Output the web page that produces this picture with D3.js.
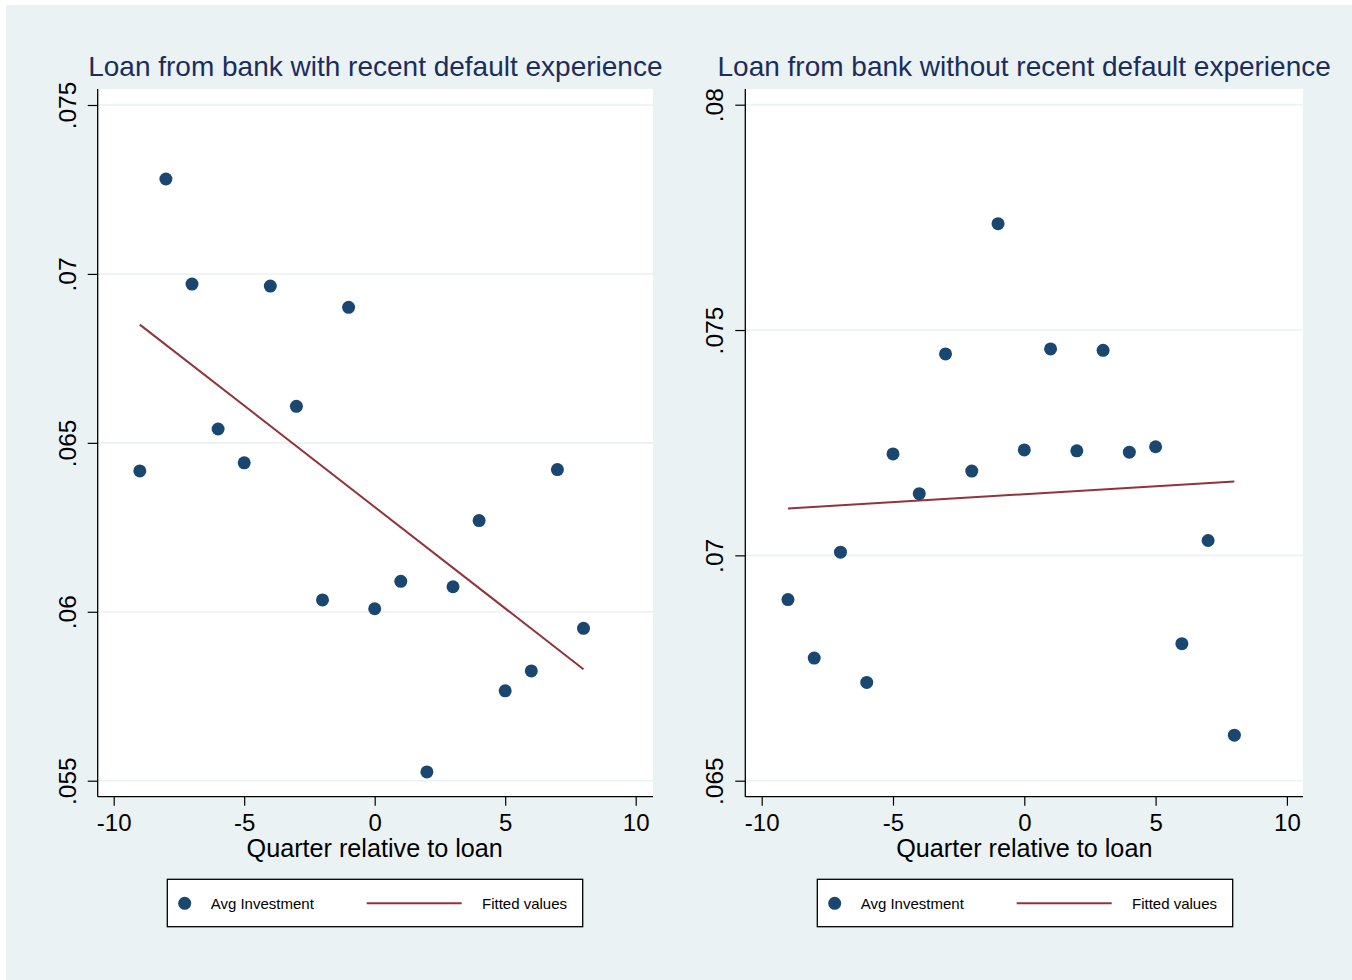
<!DOCTYPE html>
<html>
<head>
<meta charset="utf-8">
<script src="https://cdn.jsdelivr.net/npm/d3@7"></script>
<style>
  html, body { margin: 0; padding: 0; background: #ffffff; }
  svg { display: block; font-family: "Liberation Sans", Arial, Helvetica, sans-serif; }
</style>
</head>
<body>
<svg id="chart" width="1352" height="980"></svg>
<script>
// Quarters relative to the loan date
const quarters = [-9, -8, -7, -6, -5, -4, -3, -2, -1, 0, 1, 2, 3, 4, 5, 6, 7, 8];

// Average investment, loans from banks with a recent default experience
const invWithDefault = [
  0.06417, 0.07281, 0.06970, 0.06541, 0.06441, 0.06964, 0.06608, 0.06035, 0.06901,
  0.06009, 0.06090, 0.05526, 0.06074, 0.06270, 0.05766, 0.05825, 0.06421, 0.05951
];

// Average investment, loans from banks without a recent default experience
const invWithoutDefault = [
  0.06902, 0.06772, 0.07007, 0.06718, 0.07225, 0.07137, 0.07447, 0.07187, 0.07736,
  0.07234, 0.07458, 0.07232, 0.07455, 0.07229, 0.07241, 0.06804, 0.07033, 0.06601
];

// Linear fit, evaluated at the first and last quarter
const fitQuarters = [-9, 8];
const fitWithDefault = [0.06850, 0.05830];
const fitWithoutDefault = [0.07104, 0.07164];

// Axis ticks
const xTicks = [-10, -5, 0, 5, 10];
const xTickLabels = ["-10", "-5", "0", "5", "10"];
const yTicksWithDefault = [0.055, 0.06, 0.065, 0.07, 0.075];
const yTickLabelsWithDefault = [".055", ".06", ".065", ".07", ".075"];
const yTicksWithoutDefault = [0.065, 0.07, 0.075, 0.08];
const yTickLabelsWithoutDefault = [".065", ".07", ".075", ".08"];

const panelTitles = [
  "Loan from bank with recent default experience",
  "Loan from bank without recent default experience"
];
const xAxisTitle = "Quarter relative to loan";
const legendLabels = ["Avg Investment", "Fitted values"];

const COLORS = {
  background: "#eaf2f3",
  plot: "#ffffff",
  grid: "#eaf2f3",
  title: "#1c2d5c",
  marker: "#1a476f",
  fit: "#90353b",
  axis: "#000000"
};

const svg = d3.select("#chart");

svg.append("rect")
  .attr("x", 6).attr("y", 5)
  .attr("width", 1346).attr("height", 975)
  .attr("fill", COLORS.background);

const panels = [
  {
    title: panelTitles[0],
    values: invWithDefault,
    fit: fitWithDefault,
    yTicks: yTicksWithDefault,
    yLabels: yTickLabelsWithDefault,
    plotLeft: 97.7, plotRight: 653,
    xRange: [113.7, 635.7],
    yDomain: [0.055, 0.075], yRange: [780.7, 105.0],
    legendX: 167.3
  },
  {
    title: panelTitles[1],
    values: invWithoutDefault,
    fit: fitWithoutDefault,
    yTicks: yTicksWithoutDefault,
    yLabels: yTickLabelsWithoutDefault,
    plotLeft: 745.3, plotRight: 1303,
    xRange: [761.7, 1286.9],
    yDomain: [0.065, 0.08], yRange: [780.7, 104.7],
    legendX: 817.3
  }
];

const plotTop = 89;
const plotBottom = 796.7;

panels.forEach(p => {
  const g = svg.append("g");
  const x = d3.scaleLinear().domain([-10, 10]).range(p.xRange);
  const y = d3.scaleLinear().domain(p.yDomain).range(p.yRange);

  // plot region
  g.append("rect")
    .attr("x", p.plotLeft).attr("y", plotTop)
    .attr("width", p.plotRight - p.plotLeft)
    .attr("height", plotBottom - plotTop)
    .attr("fill", COLORS.plot);

  // horizontal grid lines
  g.append("g").selectAll("line")
    .data(p.yTicks)
    .join("line")
    .attr("x1", p.plotLeft).attr("x2", p.plotRight)
    .attr("y1", d => y(d)).attr("y2", d => y(d))
    .attr("stroke", COLORS.grid)
    .attr("stroke-width", 1.6);

  // fitted line
  g.append("path")
    .datum(fitQuarters.map((q, i) => [q, p.fit[i]]))
    .attr("fill", "none")
    .attr("stroke", COLORS.fit)
    .attr("stroke-width", 2)
    .attr("d", d3.line().x(d => x(d[0])).y(d => y(d[1])));

  // scatter markers
  g.append("g").selectAll("circle")
    .data(quarters.map((q, i) => [q, p.values[i]]))
    .join("circle")
    .attr("cx", d => x(d[0]))
    .attr("cy", d => y(d[1]))
    .attr("r", 6.5)
    .attr("fill", COLORS.marker);

  // y axis
  const yAxis = d3.axisLeft(y)
    .tickValues(p.yTicks)
    .tickFormat((d, i) => p.yLabels[i])
    .tickSizeInner(10)
    .tickSizeOuter(0);
  const ya = g.append("g")
    .attr("transform", `translate(${p.plotLeft},0)`)
    .call(yAxis);
  ya.select(".domain").remove();
  ya.selectAll(".tick line").attr("stroke", COLORS.axis).attr("stroke-width", 1.2);
  ya.selectAll(".tick text")
    .attr("x", null).attr("dy", null)
    .attr("transform", "translate(-22,0) rotate(-90)")
    .attr("text-anchor", "middle")
    .attr("font-size", 24.5)
    .attr("font-family", "Liberation Sans, Arial, sans-serif")
    .attr("fill", "#000");

  // x axis
  const xAxis = d3.axisBottom(x)
    .tickValues(xTicks)
    .tickFormat((d, i) => xTickLabels[i])
    .tickSizeInner(9)
    .tickSizeOuter(0)
    .tickPadding(0);
  const xa = g.append("g")
    .attr("transform", `translate(0,${plotBottom})`)
    .call(xAxis);
  xa.select(".domain").remove();
  xa.selectAll(".tick line").attr("stroke", COLORS.axis).attr("stroke-width", 1.2);
  xa.selectAll(".tick text")
    .attr("y", 34).attr("dy", null)
    .attr("font-size", 24)
    .attr("font-family", "Liberation Sans, Arial, sans-serif")
    .attr("fill", "#000");

  // axis lines along the plot region
  g.append("line")
    .attr("x1", p.plotLeft).attr("x2", p.plotLeft)
    .attr("y1", plotTop).attr("y2", plotBottom)
    .attr("stroke", COLORS.axis).attr("stroke-width", 1.3);
  g.append("line")
    .attr("x1", p.plotLeft).attr("x2", p.plotRight)
    .attr("y1", plotBottom).attr("y2", plotBottom)
    .attr("stroke", COLORS.axis).attr("stroke-width", 1.3);

  const cx = (p.plotLeft + p.plotRight) / 2;

  // panel title
  g.append("text")
    .attr("x", cx).attr("y", 76)
    .attr("text-anchor", "middle")
    .attr("font-size", 28)
    .attr("fill", COLORS.title)
    .text(p.title);

  // x axis title
  g.append("text")
    .attr("x", x(0)).attr("y", 857)
    .attr("text-anchor", "middle")
    .attr("font-size", 25.2)
    .attr("fill", "#000")
    .text(xAxisTitle);

  // legend
  const lg = g.append("g").attr("transform", `translate(${p.legendX},879.3)`);
  lg.append("rect")
    .attr("x", 0).attr("y", 0)
    .attr("width", 415.4).attr("height", 47.4)
    .attr("fill", "#ffffff")
    .attr("stroke", "#000")
    .attr("stroke-width", 1.3);
  lg.append("circle")
    .attr("cx", 17.4).attr("cy", 24)
    .attr("r", 6.5)
    .attr("fill", COLORS.marker);
  lg.append("text")
    .attr("x", 43.4).attr("y", 29.5)
    .attr("font-size", 15)
    .attr("fill", "#000")
    .text(legendLabels[0]);
  lg.append("line")
    .attr("x1", 199.4).attr("x2", 294.4)
    .attr("y1", 24).attr("y2", 24)
    .attr("stroke", COLORS.fit)
    .attr("stroke-width", 2);
  lg.append("text")
    .attr("x", 314.7).attr("y", 29.5)
    .attr("font-size", 15)
    .attr("fill", "#000")
    .text(legendLabels[1]);
});
</script>
</body>
</html>
